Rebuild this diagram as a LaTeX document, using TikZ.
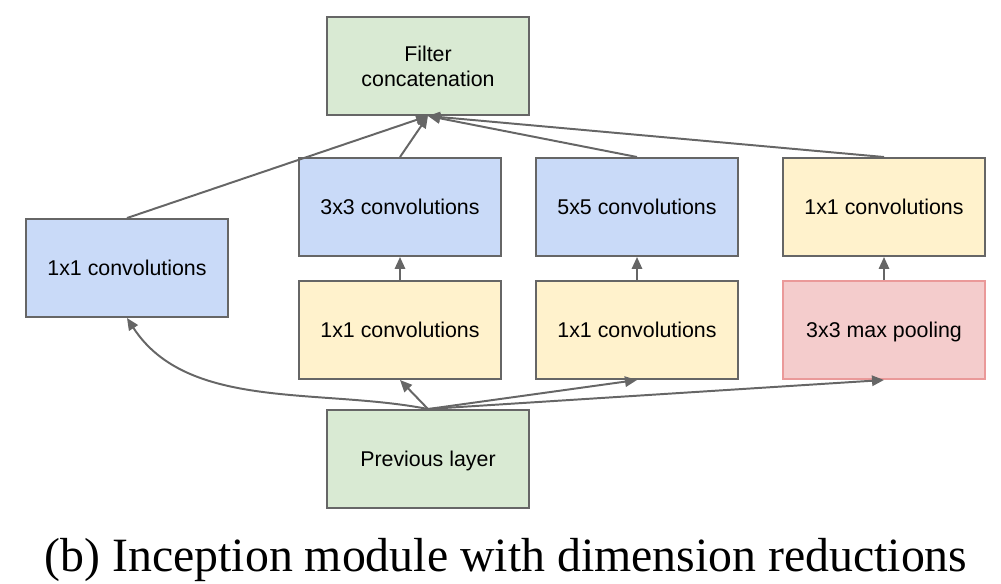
\documentclass[tikz,border=0pt]{standalone}
\usepackage{fontspec}
\setmainfont{Liberation Serif}
\setsansfont{Liberation Sans}
\usetikzlibrary{arrows.meta}

\definecolor{layergreen}{HTML}{D9EAD3}
\definecolor{convblue}{HTML}{C9DAF8}
\definecolor{reduceyellow}{HTML}{FFF2CC}
\definecolor{poolpink}{HTML}{F4CCCC}
\definecolor{poolborder}{HTML}{EA9999}
\definecolor{edgegray}{HTML}{666666}

\begin{document}
\begin{tikzpicture}[
	block/.style={rectangle,draw=edgegray,line width=1.4pt,minimum width=5.03cm,minimum height=2.45cm,
		inner sep=0pt,align=center,font=\sffamily\fontsize{15.2}{17.8}\selectfont,text depth=0pt},
	link/.style={draw=edgegray,line width=1.4pt,-{Triangle[length=3mm,width=2.6mm]}}
]

	\useasboundingbox (0,0) rectangle (25.025,-14.575);

	\def\toprow{-5.175}
	\def\midrow{-8.25}

	\node[block,fill=layergreen] (concat) at (10.7,-1.65) {Filter\\concatenation};
	\node[block,fill=convblue] (onebyone) at (3.175,-6.7) {1x1 convolutions};
	\node[block,fill=convblue] (convthree) at (10.0,\toprow) {3x3 convolutions};
	\node[block,fill=convblue] (convfive) at (15.925,\toprow) {5x5 convolutions};
	\node[block,fill=reduceyellow] (poolproj) at (22.1,\toprow) {1x1 convolutions};
	\node[block,fill=reduceyellow] (reducethree) at (10.0,\midrow) {1x1 convolutions};
	\node[block,fill=reduceyellow] (reducefive) at (15.925,\midrow) {1x1 convolutions};
	\node[block,fill=poolpink,draw=poolborder] (pool) at (22.1,\midrow) {3x3 max pooling};
	\node[block,fill=layergreen] (prev) at (10.7,-11.475) {Previous layer};

	\draw[link] (onebyone.north) -- (concat.south);
	\draw[link] (convthree.north) -- (concat.south);
	\draw[link] (convfive.north) -- (concat.south);
	\draw[link] (poolproj.north) -- (concat.south);

	\draw[link] (reducethree) -- (convthree);
	\draw[link] (reducefive) -- (convfive);
	\draw[link] (pool) -- (poolproj);

	\draw[link] (prev.north) to[out=169,in=-57,looseness=0.9] (onebyone.south);
	\draw[link] (prev.north) -- (reducethree.south);
	\draw[link] (prev.north) -- (reducefive.south);
	\draw[link] (prev.north) -- (pool.south);

	\node[anchor=base,font=\fontsize{34}{40}\selectfont] (caption) at (12.65,-14.28)
		{(b)\ Inception module with dimension reductions};

\end{tikzpicture}
\end{document}
